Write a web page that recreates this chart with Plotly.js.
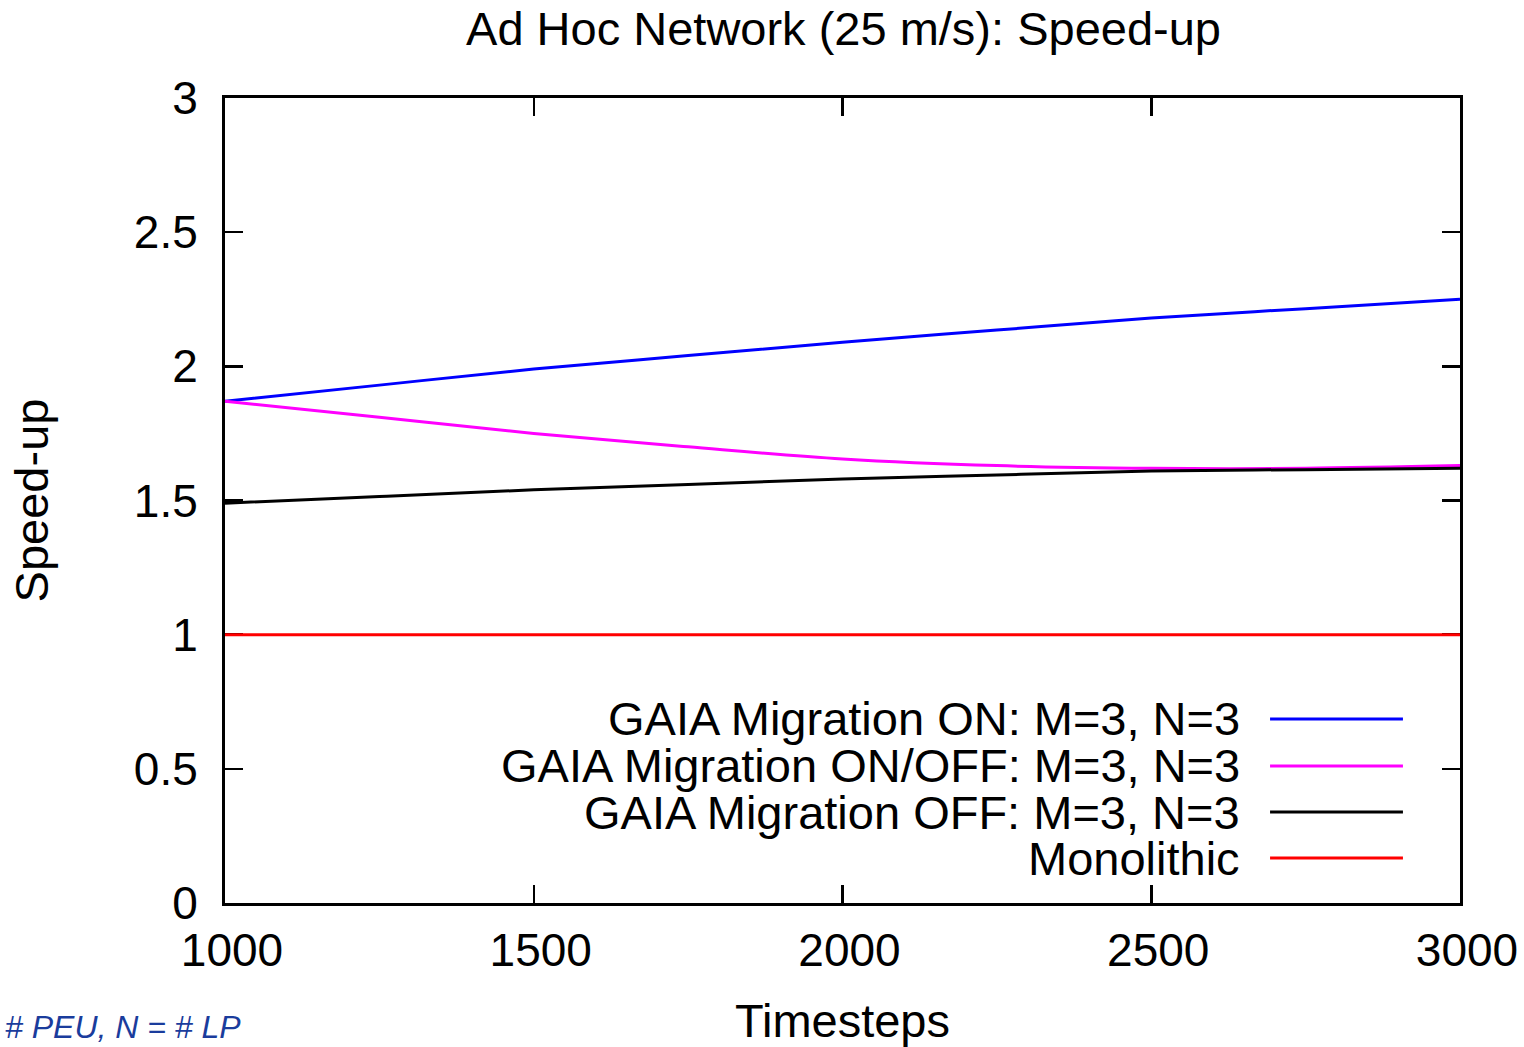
<!DOCTYPE html>
<html>
<head>
<meta charset="utf-8">
<script src="https://cdn.plot.ly/plotly-3.0.1.min.js"></script>
<style>html,body{margin:0;padding:0;background:#fff;}#chart{width:1524px;height:1047px;}</style>
</head>
<body>
<div id="chart"></div>
<script>
// ---- data ----
const timesteps = [1000, 1250, 1500, 1750, 2000, 2250, 2500, 2750, 3000];
const migrationOn    = [1.87, 1.93, 1.99, 2.04, 2.09, 2.135, 2.18, 2.215, 2.25];
const migrationOnOff = [1.87, 1.81, 1.75, 1.70, 1.655, 1.63, 1.62, 1.62, 1.63];
const migrationOff   = [1.49, 1.515, 1.54, 1.56, 1.58, 1.595, 1.61, 1.615, 1.62];
const monolithic     = [1, 1, 1, 1, 1, 1, 1, 1, 1];
const seriesNames = [
  "GAIA Migration ON: M=3, N=3",
  "GAIA Migration ON/OFF: M=3, N=3",
  "GAIA Migration OFF: M=3, N=3",
  "Monolithic"
];
const seriesColors = ["#0000ff", "#ff00ff", "#000000", "#ff0000"];
const xTicks = [1000, 1500, 2000, 2500, 3000];
const yTicks = [0, 0.5, 1, 1.5, 2, 2.5, 3];
const yTickText = ["0", "0.5", "1", "1.5", "2", "2.5", "3"];

const FONT = "Liberation Sans, Arial, Helvetica, sans-serif";
const FS = 46;
const FS_BIG = 47;

const seriesValues = [migrationOn, migrationOnOff, migrationOff, monolithic];
const traces = seriesValues.map((vals, i) => ({
  x: timesteps, y: vals, type: "scatter", mode: "lines",
  name: seriesNames[i], showlegend: false,
  line: {color: seriesColors[i], width: 3, shape: "spline"}
}));

// legend (gnuplot style: text right, sample line right of text)
const legendY = [0.2286, 0.1702, 0.1130, 0.0559];
const annotations = seriesNames.map((n, i) => ({
  xref: "paper", yref: "paper", x: 0.8235, y: legendY[i],
  xanchor: "right", yanchor: "middle", text: n, showarrow: false,
  font: {family: FONT, size: FS_BIG, color: "#000"}
}));
const shapes = seriesNames.map((n, i) => ({
  type: "line", xref: "paper", yref: "paper",
  x0: 0.8462, x1: 0.9538, y0: legendY[i], y1: legendY[i],
  line: {color: seriesColors[i], width: 3}
}));
annotations.push({
  xref: "paper", yref: "paper", x: -0.1798, y: -0.154,
  xanchor: "left", yanchor: "middle", showarrow: false,
  text: "<i># PEU, N = # LP</i>",
  font: {family: FONT, size: 32, color: "#1a3c9c"}
});

const layout = {
  width: 1524, height: 1047,
  margin: {l: 225, r: 64, t: 98, b: 144},
  paper_bgcolor: "#fff", plot_bgcolor: "#fff",
  font: {family: FONT, size: FS, color: "#000"},
  title: {text: "Ad Hoc Network (25 m/s): Speed-up", font: {family: FONT, size: FS_BIG, color: "#000"},
          x: 0.5535, xref: "container", xanchor: "center", y: 0.973, yref: "container", yanchor: "middle"},
  xaxis: {
    range: [1000, 3000], tickvals: xTicks, ticktext: xTicks.map(String),
    ticks: "inside", ticklen: 18, tickwidth: 2.5, tickcolor: "#000",
    showline: true, linewidth: 3, linecolor: "#000", mirror: "allticks",
    showgrid: false, zeroline: false, layer: "below traces",
    ticklabelstandoff: 5, ticklabelshift: 7,
    tickfont: {family: FONT, size: FS, color: "#000"},
    title: {text: "Timesteps", font: {family: FONT, size: FS_BIG, color: "#000"}, standoff: 34}
  },
  yaxis: {
    range: [0, 3], tickvals: yTicks, ticktext: yTickText,
    ticks: "inside", ticklen: 18, tickwidth: 2.5, tickcolor: "#000",
    showline: true, linewidth: 3, linecolor: "#000", mirror: "allticks",
    showgrid: false, zeroline: false, layer: "below traces",
    ticklabelstandoff: 15,
    tickfont: {family: FONT, size: FS, color: "#000"},
    title: {text: "Speed-up", font: {family: FONT, size: FS_BIG, color: "#000"}, standoff: 71}
  },
  annotations: annotations,
  shapes: shapes
};

Plotly.newPlot("chart", traces, layout, {displayModeBar: false, staticPlot: true});
</script>
</body>
</html>
